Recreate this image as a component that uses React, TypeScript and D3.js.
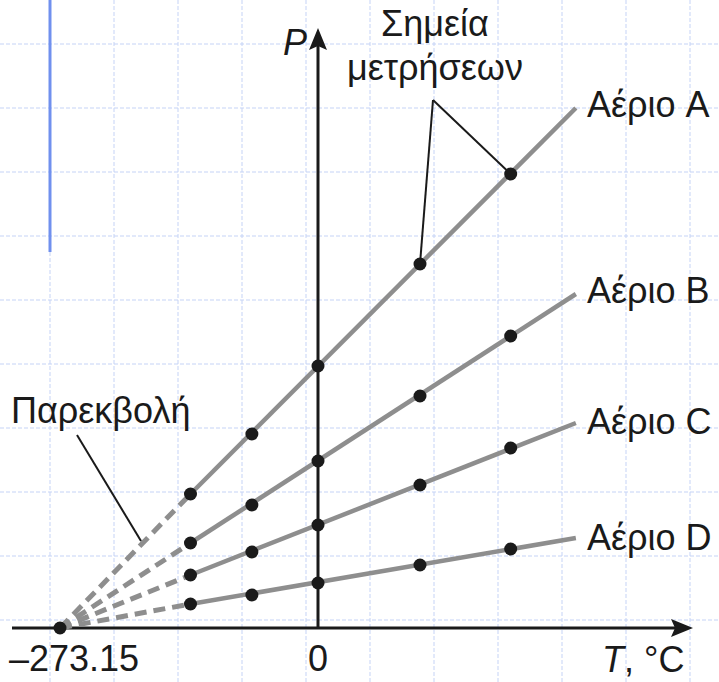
import React from "react";
import * as d3 from "d3";

const W = 719;
const H = 682;

// Measurement temperatures (°C)
const temps = [-135, -70, 0, 108, 204];
const lineEndT = 273;
const zeroT = -273.15;

const gasNames = ["Αέριο A", "Αέριο B", "Αέριο C", "Αέριο D"];
const pA = [134, 194, 262, 364, 454];
const pB = [85, 123, 167, 232, 292];
const pC = [53, 76, 103, 143, 180];
const pD = [24, 33, 45, 63, 79];
const pEnd = [520, 334, 205, 90];
const series = [pA, pB, pC, pD];

const xTickLabels = ["–273.15", "0"];

const FONT = "'Liberation Sans', Arial, sans-serif";

export default function App() {
  const x = d3.scaleLinear().domain([zeroT, 0]).range([60, 318]);
  const y = d3.scaleLinear().domain([0, 600]).range([628, 28]);

  const line = d3
    .line<[number, number]>()
    .x((d) => x(d[0]))
    .y((d) => y(d[1]));

  const gridX = d3.range(50, W, 64);
  const gridY = d3.range(44, H, 64);

  const labelY = [117, 303, 434, 550];

  const x0 = x(0);
  const yAxis0 = y(0);

  return (
    <svg
      width={W}
      height={H}
      style={{ position: "absolute", left: 0, top: 0, background: "#fff" }}
      fontFamily={FONT}
    >
      {/* grid */}
      <g stroke="#c5d3f6" strokeWidth={1} strokeDasharray="4 2">
        {gridX.map((gx) => (
          <line key={"gx" + gx} x1={gx} x2={gx} y1={0} y2={H} />
        ))}
        {gridY.map((gy) => (
          <line key={"gy" + gy} x1={0} x2={W} y1={gy} y2={gy} />
        ))}
      </g>
      <line x1={50} x2={50} y1={0} y2={252} stroke="#7090ee" strokeWidth={3} />

      {/* axes */}
      <line x1={12} x2={680} y1={yAxis0} y2={yAxis0} stroke="#1a1a1a" strokeWidth={3} />
      <path d={`M693,${yAxis0} L671,${yAxis0 - 9} L675,${yAxis0} L671,${yAxis0 + 9} Z`} fill="#1a1a1a" />
      <line x1={x0} x2={x0} y1={yAxis0} y2={42} stroke="#1a1a1a" strokeWidth={3} />
      <path d={`M${x0},28 L${x0 - 9},50 L${x0},46 L${x0 + 9},50 Z`} fill="#1a1a1a" />

      {/* gas lines */}
      {series.map((s, i) => (
        <g key={i}>
          <path
            d={line([
              [zeroT, 0],
              [temps[0], s[0]],
            ])!}
            stroke="#8e8e8e"
            strokeWidth={5}
            strokeDasharray="12 7"
            fill="none"
          />
          <path
            d={line([
              [temps[0], s[0]],
              [lineEndT, pEnd[i]],
            ])!}
            stroke="#8e8e8e"
            strokeWidth={4.5}
            fill="none"
          />
        </g>
      ))}

      {/* annotation lines */}
      <g stroke="#1a1a1a" strokeWidth={2} fill="none">
        <line x1={433} y1={100} x2={x(temps[3])} y2={y(pA[3])} />
        <line x1={433} y1={100} x2={x(temps[4])} y2={y(pA[4])} />
        <line x1={77} y1={435} x2={141} y2={541} />
      </g>

      {/* points */}
      {series.map((s, i) =>
        s.map((p, j) => (
          <circle key={i + "-" + j} cx={x(temps[j])} cy={y(p)} r={6.5} fill="#1a1a1a" />
        ))
      )}
      <circle cx={x(zeroT)} cy={y(0)} r={6.5} fill="#1a1a1a" />

      {/* labels */}
      <g fill="#1a1a1a" fontSize={36}>
        {gasNames.map((g, i) => (
          <text key={g} x={587} y={labelY[i]}>
            {g}
          </text>
        ))}
        <text x={435} y={36} textAnchor="middle">Σημεία</text>
        <text x={435} y={80} textAnchor="middle">μετρήσεων</text>
        <text x={11} y={423}>Παρεκβολή</text>
        <text x={9} y={671}>{xTickLabels[0]}</text>
        <text x={x0} y={671} textAnchor="middle">{xTickLabels[1]}</text>
        <text x={283} y={55} fontStyle="italic">P</text>
        <text x={602} y={672}>
          <tspan fontStyle="italic">T</tspan>, °C
        </text>
      </g>
    </svg>
  );
}
